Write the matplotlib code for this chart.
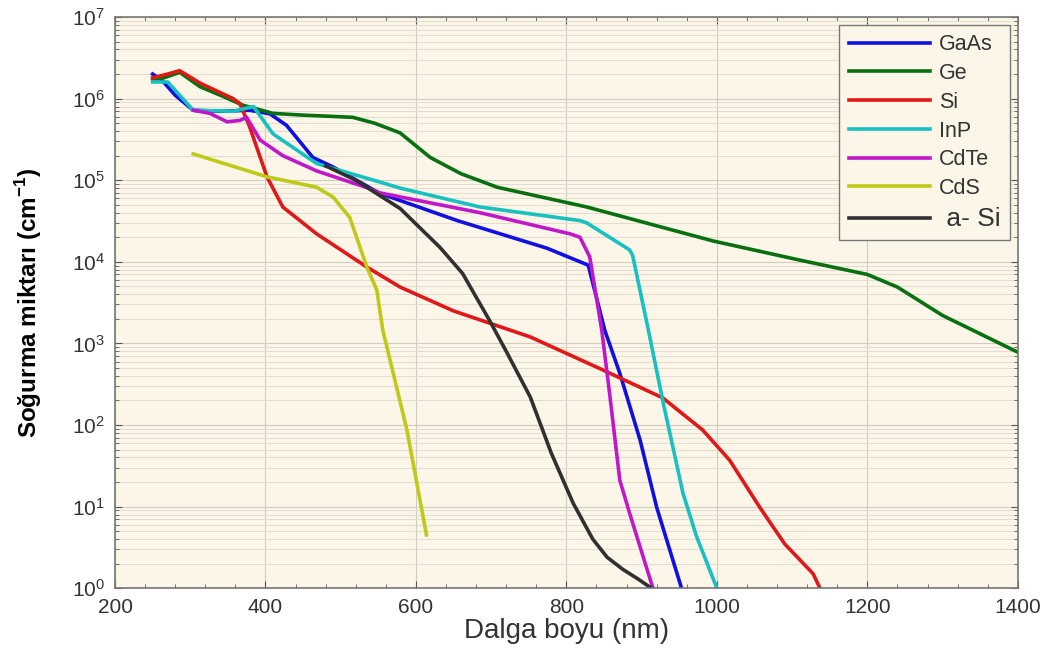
import matplotlib
matplotlib.use("Agg")
import matplotlib.pyplot as plt
import numpy as np
from matplotlib.ticker import LogLocator, MultipleLocator, NullFormatter

plt.rcParams['font.family'] = ['Liberation Sans', 'DejaVu Sans']
plt.rcParams['mathtext.fontset'] = 'custom'
plt.rcParams['mathtext.rm'] = 'Liberation Sans'
plt.rcParams['mathtext.bf'] = 'Liberation Sans:bold'

# wavelength (nm) and absorption coefficient (cm^-1)
gaas_x = [250, 262, 280, 304, 340, 379, 406, 428, 463, 490, 552, 655, 774, 829, 851, 871, 898, 920, 953]
gaas_y = [2.0e6, 1.7e6, 1.1e6, 7.2e5, 7.0e5, 7.2e5, 6.5e5, 4.7e5, 1.9e5, 1.45e5, 6.9e4, 3.2e4, 1.47e4, 9.1e3, 1.45e3, 430, 65, 9.8, 1.0]

ge_x = [250, 265, 286, 313, 340, 370, 410, 446, 516, 545, 579, 619, 660, 708, 827, 995, 1110, 1200, 1240, 1300, 1400]
ge_y = [1.7e6, 1.8e6, 2.1e6, 1.4e6, 1.1e6, 8.3e5, 6.6e5, 6.3e5, 5.9e5, 5.0e5, 3.8e5, 1.9e5, 1.2e5, 8.2e4, 4.7e4, 1.8e4, 1.05e4, 7.0e3, 4.9e3, 2.2e3, 780]

si_x = [250, 270, 286, 313, 357, 366, 379, 402, 423, 468, 535, 579, 650, 752, 849, 928, 981, 1017, 1057, 1090, 1128, 1137]
si_y = [1.8e6, 2.0e6, 2.2e6, 1.55e6, 1.0e6, 8.7e5, 4.5e5, 1.1e5, 4.7e4, 2.2e4, 8.6e3, 4.9e3, 2.5e3, 1.2e3, 470, 215, 87, 37, 9.8, 3.5, 1.5, 1.0]

inp_x = [250, 270, 304, 357, 384, 410, 468, 552, 579, 685, 818, 827, 884, 888, 909, 928, 955, 973, 1000]
inp_y = [1.6e6, 1.6e6, 7.2e5, 7.0e5, 8.0e5, 3.7e5, 1.6e5, 9.5e4, 8.0e4, 4.7e4, 3.2e4, 3.0e4, 1.4e4, 1.2e4, 1.45e3, 200, 14.5, 4.3, 1.0]

cdte_x = [304, 326, 349, 366, 375, 393, 423, 468, 535, 552, 685, 805, 818, 831, 847, 858, 871, 884, 915]
cdte_y = [7.2e5, 6.6e5, 5.2e5, 5.4e5, 5.9e5, 3.1e5, 2.0e5, 1.3e5, 8.1e4, 7.0e4, 4.0e4, 2.2e4, 2.0e4, 1.15e4, 1.45e3, 220, 21, 8.3, 1.0]

cds_x = [304, 402, 468, 490, 512, 535, 548, 556, 588, 614]
cds_y = [2.1e5, 1.1e5, 8.2e4, 6.2e4, 3.5e4, 8.5e3, 4.5e3, 1.45e3, 87, 4.5]

asi_x = [480, 520, 579, 632, 662, 698, 720, 752, 780, 809, 835, 854, 875, 895, 913]
asi_y = [1.5e5, 1.0e5, 4.5e4, 1.5e4, 7.2e3, 1.9e3, 800, 220, 45, 11, 4.0, 2.4, 1.7, 1.3, 1.0]

series = [
    ("GaAs", gaas_x, gaas_y, "#1010e0"),
    ("Ge", ge_x, ge_y, "#087010"),
    ("Si", si_x, si_y, "#e01818"),
    ("InP", inp_x, inp_y, "#18c0c0"),
    ("CdTe", cdte_x, cdte_y, "#c018c8"),
    ("CdS", cds_x, cds_y, "#c0c818"),
    (" a- Si", asi_x, asi_y, "#303030"),
]

fig = plt.figure(figsize=(10.59, 6.55), dpi=100)
ax = fig.add_axes([0.1086, 0.102, 0.8525, 0.872])
ax.set_facecolor("#fcf6e9")

for name, xs, ys, c in series:
    ax.plot(xs, ys, color=c, lw=2.6, label=name, solid_joinstyle="round")

ax.set_yscale("log")
ax.set_xlim(200, 1400)
ax.set_ylim(1, 1e7)
ax.xaxis.set_major_locator(MultipleLocator(200))
ax.xaxis.set_minor_locator(MultipleLocator(40))
ax.yaxis.set_major_locator(LogLocator(base=10, numticks=10))
ax.yaxis.set_minor_locator(LogLocator(base=10, subs=np.arange(2, 10), numticks=20))
ax.yaxis.set_minor_formatter(NullFormatter())

ax.grid(True, which="major", color="#d0ccc0", lw=0.8)
ax.grid(True, which="minor", axis="y", color="#e2ddd0", lw=0.7)
ax.tick_params(which="both", direction="in", top=True, right=True, colors="#555555",
               labelcolor="#333333", labelsize=15)
ax.tick_params(which="major", length=5, pad=7)
ax.tick_params(which="minor", length=3)
for s in ax.spines.values():
    s.set_color("#777777")
    s.set_linewidth(1.2)

ax.set_xlabel("Dalga boyu (nm)", fontsize=20, color="#333333", labelpad=1)
ax.set_ylabel("Soğurma miktarı (cm$^{\\mathbf{-1}}$)", fontsize=17.5, fontweight="bold",
              labelpad=20)

leg = ax.legend(loc="upper right", fontsize=15.5, frameon=True, fancybox=False,
                edgecolor="#777777", framealpha=1, facecolor="#fcf6e9",
                handlelength=3.8, handletextpad=0.4, labelspacing=0.36,
                borderaxespad=0.35, borderpad=0.45)
leg.get_frame().set_linewidth(1.0)
for t in leg.get_texts():
    t.set_color("#333333")
leg.get_texts()[-1].set_fontsize(19)

fig.savefig("out.png", dpi=100)
